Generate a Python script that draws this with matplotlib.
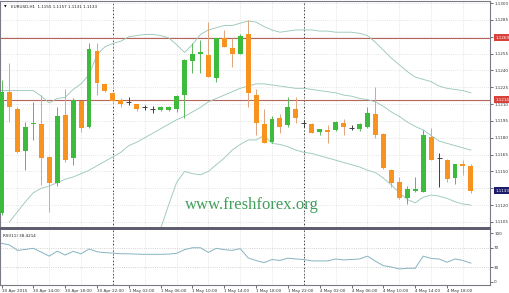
import numpy as np
import matplotlib
matplotlib.use("Agg")
import matplotlib.pyplot as plt
import matplotlib.transforms as mtransforms

# EURUSD H1, 30 Apr 10:00 .. 4 May 21:00 (one entry per hourly bar)
opens = [1.1113, 1.1221, 1.1206, 1.1168, 1.1192, 1.1192, 1.1163, 1.1140, 1.1200, 1.1162,
         1.1213, 1.1190, 1.1257, 1.1228, 1.1220, 1.1214, 1.1212, 1.1210, 1.1207, 1.1206,
         1.1205, 1.1205, 1.1206, 1.1218, 1.1248, 1.1255, 1.1254, 1.1233, 1.1269, 1.1260,
         1.1255, 1.1272, 1.1218, 1.1192, 1.1176, 1.1198, 1.1191, 1.1206, 1.1193, 1.1192,
         1.1185, 1.1187, 1.1187, 1.1193, 1.1189, 1.1188, 1.1190, 1.1201, 1.1183, 1.1151,
         1.1141, 1.1126, 1.1133, 1.1132, 1.1181, 1.1162, 1.1160, 1.1144, 1.1157, 1.1155]
highs = [1.1231, 1.1247, 1.1207, 1.1194, 1.1212, 1.1218, 1.1164, 1.1207, 1.1223, 1.1215,
         1.1213, 1.1264, 1.1264, 1.1229, 1.1221, 1.1215, 1.1216, 1.1210, 1.1209, 1.1208,
         1.1208, 1.1208, 1.1218, 1.1250, 1.1264, 1.1267, 1.1283, 1.1269, 1.1276, 1.1269,
         1.1272, 1.1285, 1.1223, 1.1206, 1.1199, 1.1201, 1.1216, 1.1216, 1.1196, 1.1193,
         1.1188, 1.1191, 1.1195, 1.1197, 1.1191, 1.1193, 1.1207, 1.1225, 1.1184, 1.1152,
         1.1145, 1.1137, 1.1145, 1.1187, 1.1189, 1.1166, 1.1161, 1.1157, 1.1160, 1.1157]
lows = [1.1111, 1.1194, 1.1166, 1.1151, 1.1178, 1.1138, 1.1114, 1.1137, 1.1158, 1.1156,
        1.1185, 1.1189, 1.1218, 1.1221, 1.1212, 1.1207, 1.1209, 1.1204, 1.1205, 1.1202,
        1.1204, 1.1204, 1.1203, 1.1198, 1.1238, 1.1238, 1.1234, 1.1230, 1.1261, 1.1243,
        1.1255, 1.1207, 1.1182, 1.1175, 1.1175, 1.1184, 1.1190, 1.1193, 1.1190, 1.1184,
        1.1182, 1.1175, 1.1186, 1.1182, 1.1187, 1.1186, 1.1189, 1.1180, 1.1152, 1.1136,
        1.1125, 1.1121, 1.1132, 1.1132, 1.1160, 1.1136, 1.1141, 1.1139, 1.1147, 1.1131]
closes = [1.1221, 1.1207, 1.1167, 1.1190, 1.1193, 1.1162, 1.1140, 1.1199, 1.1160, 1.1214,
          1.1189, 1.1259, 1.1229, 1.1222, 1.1213, 1.1210, 1.1212, 1.1206, 1.1207, 1.1206,
          1.1207, 1.1207, 1.1217, 1.1249, 1.1255, 1.1256, 1.1234, 1.1269, 1.1261, 1.1255,
          1.1271, 1.1220, 1.1193, 1.1175, 1.1197, 1.1190, 1.1207, 1.1198, 1.1193, 1.1184,
          1.1188, 1.1185, 1.1194, 1.1190, 1.1189, 1.1192, 1.1202, 1.1182, 1.1153, 1.1140,
          1.1126, 1.1134, 1.1134, 1.1182, 1.1160, 1.1162, 1.1143, 1.1157, 1.1155, 1.1133]

nan = float("nan")
bb_upper = [1.1222, 1.1222, 1.1222, 1.1222, 1.1222, 1.1217, 1.1211, 1.1215, 1.1216, 1.1223,
            1.1228, 1.1236, 1.1254, 1.1261, 1.1264, 1.1266, 1.1270, 1.1271, 1.1272, 1.1272,
            1.1271, 1.1269, 1.1263, 1.1256, 1.1263, 1.1272, 1.1276, 1.1278, 1.1280, 1.1280,
            1.1282, 1.1284, 1.1283, 1.1279, 1.1276, 1.1274, 1.1275, 1.1276, 1.1276, 1.1276,
            1.1275, 1.1275, 1.1274, 1.1274, 1.1274, 1.1273, 1.1271, 1.1265, 1.1258, 1.1251,
            1.1245, 1.1239, 1.1234, 1.1232, 1.1230, 1.1226, 1.1224, 1.1223, 1.1222, 1.1220]
bb_middle = [nan, 1.1105, 1.1114, 1.1123, 1.1131, 1.1135, 1.1137, 1.1140, 1.1143, 1.1145,
             1.1148, 1.1151, 1.1155, 1.1159, 1.1163, 1.1167, 1.1173, 1.1176, 1.1180, 1.1184,
             1.1188, 1.1192, 1.1196, 1.1199, 1.1203, 1.1207, 1.1212, 1.1215, 1.1218, 1.1221,
             1.1224, 1.1226, 1.1228, 1.1228, 1.1227, 1.1226, 1.1225, 1.1224, 1.1224, 1.1223,
             1.1222, 1.1221, 1.1220, 1.1218, 1.1217, 1.1215, 1.1214, 1.1212, 1.1208, 1.1203,
             1.1199, 1.1194, 1.1190, 1.1187, 1.1182, 1.1177, 1.1175, 1.1173, 1.1171, 1.1169]
bb_lower = [nan] * 20 + [
             1.1099, 1.1120, 1.1140, 1.1150, 1.1148, 1.1147, 1.1150, 1.1156, 1.1162, 1.1169,
             1.1174, 1.1178, 1.1178, 1.1182, 1.1175, 1.1174, 1.1172, 1.1169, 1.1167, 1.1166,
             1.1164, 1.1162, 1.1160, 1.1158, 1.1156, 1.1154, 1.1151, 1.1149, 1.1144, 1.1138,
             1.1131, 1.1125, 1.1122, 1.1127, 1.1129, 1.1128, 1.1126, 1.1123, 1.1121, 1.1120]

rsi = [79.0, 75.7, 64.6, 66.5, 68.8, 61.0, 52.8, 63.0, 55.0, 62.5,
       57.6, 67.4, 61.8, 60.0, 59.0, 57.6, 57.5, 57.0, 56.5, 56.5,
       56.5, 57.0, 58.5, 66.0, 70.0, 70.0, 60.4, 68.8, 66.0, 64.6,
       68.0, 49.3, 43.8, 39.6, 45.8, 44.0, 48.6, 47.0, 45.8, 43.0,
       43.0, 43.0, 47.0, 45.0, 46.0, 47.0, 52.8, 42.4, 33.3, 30.6,
       26.4, 28.0, 28.0, 52.8, 48.0, 47.0, 40.3, 47.0, 44.0, 38.42]

time_labels = ["30 Apr 2015", "30 Apr 14:00", "30 Apr 18:00", "30 Apr 22:00",
               "1 May 02:00", "1 May 06:00", "1 May 10:00", "1 May 14:00",
               "1 May 18:00", "1 May 22:00", "4 May 02:00", "4 May 06:00",
               "4 May 10:00", "4 May 14:00", "4 May 18:00"]
day_starts = [14, 38]
price_ticks = [1.1105, 1.1120, 1.1135, 1.1150, 1.1165, 1.1180, 1.1195,
               1.1210, 1.1225, 1.1240, 1.1255, 1.1270, 1.1285, 1.1300]
price_lines = [1.1269, 1.1214]
rsi_ticks = [0, 30, 70, 100]
rsi_levels = [30, 70]

UP = "#3dbb3d"
DOWN = "#f7931e"
DOJI = "#404040"
BAND = "#9cc9bc"
GRID = "#dcdcdc"
FRAME = "#7a7a86"

o = np.array(opens)
h = np.array(highs)
l = np.array(lows)
c = np.array(closes)
x = np.arange(len(o))

fig = plt.figure(figsize=(5.1, 2.93), dpi=100)
W, H = 510.0, 293.0
ax = fig.add_axes([0, 65 / H, 490 / W, 227 / H])
ax2 = fig.add_axes([0, 8 / H, 490 / W, 56 / H])

for a in (ax, ax2):
    a.set_xlim(-0.19, 61.4)
    a.yaxis.tick_right()
    a.tick_params(axis="both", labelsize=3, length=2, width=0.5, pad=1,
                  colors="#333333")
    for s in a.spines.values():
        s.set_color(FRAME)
        s.set_linewidth(0.8)
    a.set_xticks(np.arange(0, 60, 4))
    a.set_xticks(np.arange(2, 61, 4), minor=True)
    a.tick_params(axis="x", which="minor", length=0)
    a.grid(True, which="minor", axis="x", color=GRID, ls=":", lw=0.6)
    for d in day_starts:
        a.axvline(d, color="black", ls=(0, (2, 2)), lw=0.6, zorder=1)

# main price panel
ax.set_ylim(1.10996, 1.13018)
ax.set_yticks(price_ticks)
# ticks hidden behind the price markers are left without text
hidden = [price_lines[0], closes[-1]]
ax.set_yticklabels(["" if min(abs(p - q) for q in hidden) < 0.0004 else "%.4f" % p
                    for p in price_ticks])
ax.grid(True, which="major", axis="y", color=GRID, ls=":", lw=0.6)
ax.set_xticklabels([])
ax.tick_params(axis="x", length=0)
ax.spines["bottom"].set_linewidth(1.4)
ax.spines["bottom"].set_color("#5c5c6c")

for p in price_lines:
    ax.axhline(p, color="#b5655a", lw=0.8, zorder=2)

ax.plot(x, bb_upper, color=BAND, lw=0.65, zorder=2)
ax.plot(x, bb_middle, color=BAND, lw=0.65, zorder=2)
ax.plot(x, bb_lower, color=BAND, lw=0.65, zorder=2)

up = c > o
down = c < o
doji = c == o
wick_col = np.where(up, "#5cb85c", np.where(down, "#e0a57a", DOJI))
ax.vlines(x, l, h, colors=wick_col, lw=0.7, zorder=3)
ax.bar(x[up], c[up] - o[up], bottom=o[up], width=0.62, color=UP, zorder=4)
ax.bar(x[down], o[down] - c[down], bottom=c[down], width=0.62, color=DOWN, zorder=4)
ax.hlines(o[doji], x[doji] - 0.31, x[doji] + 0.31, colors=DOJI, lw=0.7, zorder=4)

blend = mtransforms.blended_transform_factory(ax.transAxes, ax.transData)
for p in price_lines:
    ax.text(1.012, p, "%.4f" % p, transform=blend, fontsize=3, color="white",
            va="center", ha="left", zorder=6, clip_on=False,
            bbox=dict(facecolor="#d8413a", edgecolor="none", pad=1.2))
ax.text(1.012, closes[-1], "%.4f" % closes[-1], transform=blend, fontsize=3,
        color="white", va="center", ha="left", zorder=6, clip_on=False,
        bbox=dict(facecolor="#1c1c6a", edgecolor="none", pad=1.2))

ax.text(0.008, 0.975, "\u25BC", transform=ax.transAxes, fontsize=2.5,
        color="black", va="center", ha="left")
ax.text(0.022, 0.975, "EURUSD,H1  %.4f %.4f %.4f %.4f" % (opens[-1], highs[-1], lows[-1], closes[-1]),
        transform=ax.transAxes, fontsize=3, color="#222222", va="center", ha="left")

ax.text(0.514, 0.10, "www.freshforex.org", transform=ax.transAxes,
        family="Liberation Serif", fontsize=12, color="#3f9f5a",
        ha="center", va="center", zorder=5)

# RSI panel
ax2.set_ylim(-6.25, 108.3)
ax2.set_yticks(rsi_ticks)
ax2.set_yticklabels([str(t) for t in rsi_ticks])
for lv in rsi_levels:
    ax2.axhline(lv, color="#c4c4c4", ls=":", lw=0.6)
ax2.plot(x, rsi, color="#86b3c2", lw=0.7)
ax2.set_xticklabels(time_labels, ha="left")
ax2.spines["top"].set_linewidth(1.4)
ax2.spines["top"].set_color("#5c5c6c")
ax2.text(0.006, 0.88, "RSI(11) %.4f" % 38.4214, transform=ax2.transAxes,
         fontsize=3, color="#222222", va="center", ha="left")

fig.savefig("out.png", dpi=100, facecolor="white")
